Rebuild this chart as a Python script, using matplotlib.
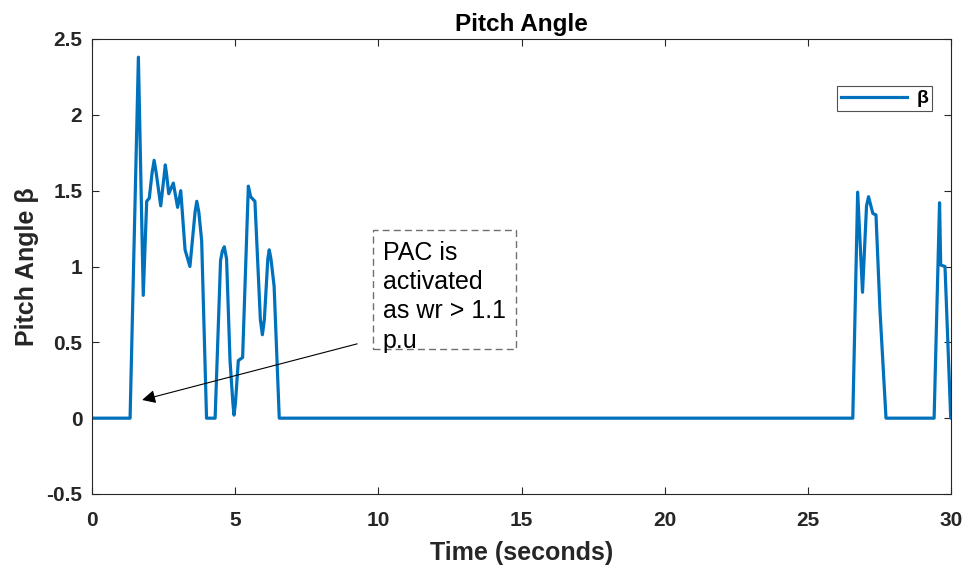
import matplotlib
matplotlib.use("Agg")
import matplotlib.pyplot as plt
from matplotlib.patches import Rectangle

plt.rcParams['font.family'] = ['Liberation Sans', 'DejaVu Sans']
plt.rcParams['font.weight'] = 'bold'

time_s = [0.0, 1.33, 1.62, 1.79, 1.91, 2.0, 2.10, 2.17, 2.24, 2.40, 2.52, 2.56, 2.61,
          2.68, 2.84, 2.99, 3.10, 3.25, 3.42, 3.60, 3.66, 3.73, 3.83, 4.0, 4.30,
          4.49, 4.55, 4.62, 4.70, 4.82, 4.92, 4.96, 5.01, 5.11, 5.26,
          5.46, 5.54, 5.69, 5.88, 5.95, 6.02, 6.14, 6.19, 6.25, 6.36, 6.54,
          26.57, 26.74, 26.91, 27.05, 27.12, 27.27, 27.38, 27.52, 27.73, 29.41,
          29.60, 29.64, 29.79, 29.99, 30.0]
beta = [0.0, 0.0, 2.38, 0.81, 1.43, 1.45, 1.62, 1.70, 1.62, 1.40, 1.60, 1.67, 1.60,
        1.48, 1.55, 1.39, 1.50, 1.11, 1.0, 1.36, 1.43, 1.36, 1.17, 0.0, 0.0,
        1.04, 1.10, 1.13, 1.05, 0.38, 0.10, 0.02, 0.10, 0.38, 0.40,
        1.53, 1.46, 1.43, 0.65, 0.55, 0.65, 1.05, 1.11, 1.05, 0.87, 0.0,
        0.0, 1.49, 0.83, 1.40, 1.46, 1.35, 1.34, 0.71, 0.0, 0.0,
        1.42, 1.01, 1.0, 0.0, 0.0]

xticks = [0, 5, 10, 15, 20, 25, 30]
yticks = [-0.5, 0, 0.5, 1, 1.5, 2, 2.5]
note_lines = ["PAC is", "activated", "as wr > 1.1", "p.u"]

fig = plt.figure(figsize=(9.66, 5.68), dpi=100)
ax = fig.add_axes([92/966, 1-494/568, (951-92)/966, (494-39)/568])
dark = '#262626'
ax.plot(time_s, beta, color='#0072BD', lw=2.3, label='β')
ax.set_xlim(0, 30)
ax.set_ylim(-0.5, 2.5)
ax.set_xticks(xticks)
ax.set_xticklabels([f"{t:g}" for t in xticks])
ax.set_yticks(yticks)
ax.set_yticklabels([f"{t:g}" for t in yticks])
ax.tick_params(direction='in', length=5, width=0.8, colors=dark, labelsize=15,
               top=True, right=True, labeltop=False, labelright=False)
ax.tick_params(axis='x', pad=12)
ax.tick_params(axis='y', pad=7)
for lbl in ax.get_xticklabels() + ax.get_yticklabels():
    lbl.set_fontweight('bold')
for s in ax.spines.values():
    s.set_color(dark)
    s.set_linewidth(0.8)
ax.set_xlabel('Time (seconds)', fontsize=18, fontweight='bold', color=dark, labelpad=8)
ax.set_ylabel('Pitch Angle β', fontsize=18, fontweight='bold', color=dark, labelpad=5)
ax.set_title('Pitch Angle', fontsize=17.5, fontweight='bold', color='black', pad=6)

leg = ax.legend(loc='upper right', fontsize=14, frameon=True, fancybox=False,
                handlelength=3.4, handletextpad=0.5, borderpad=0.2,
                borderaxespad=0, bbox_to_anchor=(0.978, 0.897))
leg.get_frame().set_edgecolor(dark)
leg.get_frame().set_linewidth(0.8)
for t in leg.get_texts():
    t.set_fontweight('bold')

# annotation box
ax.add_patch(Rectangle((9.81, 0.455), 5.0, 0.785, fill=False, ls=(0, (5, 3)),
                       ec='#707070', lw=1.0))
ax.text(10.15, 1.17, "\n".join(note_lines), fontsize=18, fontweight='normal',
        va='top', ha='left', color='black', linespacing=1.28)
ax.annotate('', xy=(1.75, 0.12), xytext=(9.26, 0.49),
            arrowprops=dict(arrowstyle='-|>', color='black', lw=0.8,
                            mutation_scale=20, shrinkA=0, shrinkB=0))

fig.savefig('out.png', dpi=100)
